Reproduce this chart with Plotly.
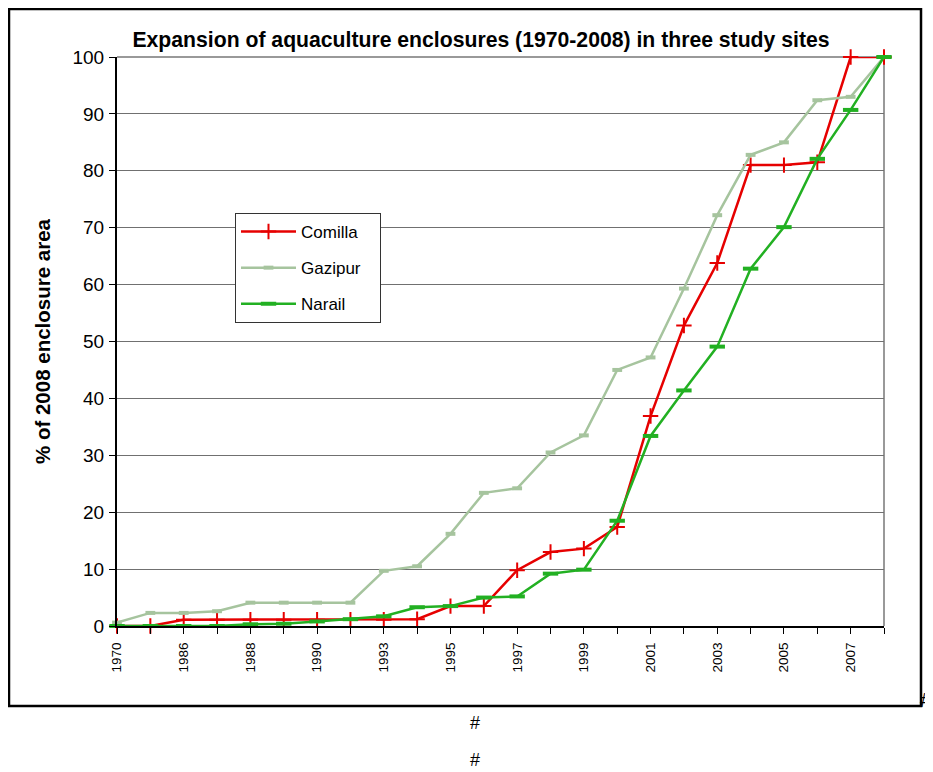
import plotly.graph_objects as go

years = ["1970", "1980", "1986", "1987", "1988", "1989", "1990", "1992", "1993", "1994",
         "1995", "1996", "1997", "1998", "1999", "2000", "2001", "2002", "2003", "2004",
         "2005", "2006", "2007", "2008"]
shown_labels = ["1970", "1986", "1988", "1990", "1993", "1995", "1997", "1999",
                "2001", "2003", "2005", "2007"]

comilla = [0, 0, 1.1, 1.1, 1.1, 1.1, 1.1, 1.1, 1.1, 1.2, 3.5, 3.5, 9.8, 13.0, 13.6, 17.4,
           36.9, 52.8, 63.8, 81.0, 81.0, 81.5, 100, 100]
gazipur = [0.6, 2.3, 2.3, 2.6, 4.1, 4.1, 4.1, 4.1, 9.7, 10.5, 16.2, 23.4, 24.2, 30.5, 33.5,
           45.0, 47.2, 59.3, 72.2, 82.8, 85.0, 92.4, 93.0, 100]
narail = [0, 0, 0, 0, 0.3, 0.4, 0.8, 1.2, 1.7, 3.3, 3.5, 5.0, 5.2, 9.2, 9.9, 18.5,
          33.4, 41.4, 49.1, 62.8, 70.1, 82.1, 90.7, 100]

OFF = 8  # page body margin
W, H = 933 - OFF, 772 - OFF
L, R, T, B = 117 - OFF, 884 - OFF, 57 - OFF, 626 - OFF

def px(x):
    return (x - OFF - L) / (R - L)

def py(y):
    return (B - (y - OFF)) / (B - T)

PAD = "&nbsp;" * 3

fig = go.Figure()
fig.add_trace(go.Scatter(
    x=years, y=comilla, name="Comilla" + PAD, mode="lines+markers", legendgroup="a",
    cliponaxis=False,
    line=dict(color="#E60000", width=2.5),
    marker=dict(symbol="cross-thin", size=11, line=dict(color="#E60000", width=2))))
fig.add_trace(go.Scatter(
    x=years, y=gazipur, name="Gazipur" + PAD, mode="lines+markers", legendgroup="b",
    cliponaxis=False,
    line=dict(color="#A6C49E", width=2.5),
    marker=dict(symbol="line-ew", size=7, line=dict(color="#A6C49E", width=4))))
fig.add_trace(go.Scatter(
    x=years, y=narail, name="Narail" + PAD, mode="lines+markers", legendgroup="c",
    cliponaxis=False,
    line=dict(color="#22B022", width=2.5),
    marker=dict(symbol="line-ew", size=11, line=dict(color="#22B022", width=4))))

ticktext = [y if y in shown_labels else "" for y in years]

fig.update_layout(
    width=W, height=H,
    margin=dict(l=L, r=W - R, t=T, b=H - B),
    paper_bgcolor="white", plot_bgcolor="white",
    font=dict(family="Liberation Sans, Arial, sans-serif", color="black"),
    title=dict(text="<b>Expansion of aquaculture enclosures (1970-2008) in three study sites</b>",
               x=px(481), xref="paper", xanchor="center", y=1 - (40 - OFF) / H, yanchor="middle",
               font=dict(size=21.2)),
    xaxis=dict(type="category", categoryorder="array", categoryarray=years,
               range=[0, len(years) - 1], tickmode="array", tickvals=years, ticktext=ticktext,
               tickangle=-90, tickfont=dict(size=13.5), ticks="outside", ticklen=6,
               tickcolor="black", showgrid=False, showline=True, linecolor="black",
               linewidth=2, zeroline=False, fixedrange=True, ticklabelstandoff=3),
    yaxis=dict(range=[0, 100], dtick=10, tickfont=dict(size=19), ticks="outside",
               ticklen=6, tickcolor="black", showgrid=True, gridcolor="#707070",
               gridwidth=1, showline=True, linecolor="black", linewidth=2,
               zeroline=False, ticklabelstandoff=1,
               title=dict(text="<b>% of 2008 enclosure area</b>", font=dict(size=20.5),
                          standoff=16)),
    legend=dict(x=px(235), y=py(213), xanchor="left", yanchor="top",
                bgcolor="white", bordercolor="#333", borderwidth=1,
                font=dict(size=17), tracegroupgap=11, itemwidth=55),
    showlegend=True,
)

# plot area border (top/right in gray)
fig.add_shape(type="line", xref="paper", yref="paper", x0=0, x1=1, y0=1, y1=1,
              line=dict(color="#999999", width=2), layer="below")
fig.add_shape(type="line", xref="paper", yref="paper", x0=1, x1=1, y0=0, y1=1,
              line=dict(color="#999999", width=2), layer="below")

# outer chart border
fig.add_shape(type="rect", xref="paper", yref="paper",
              x0=px(9), x1=px(921), y0=py(706), y1=py(9),
              line=dict(color="black", width=2.5), layer="below")

for (ax, ay, fs) in [(475, 723, 18), (475, 760, 18), (926, 700, 20)]:
    fig.add_annotation(text="#", xref="paper", yref="paper", x=px(ax), y=py(ay),
                       showarrow=False, font=dict(size=fs, color="black"),
                       xanchor="center", yanchor="middle")

fig.write_html("out.html")
